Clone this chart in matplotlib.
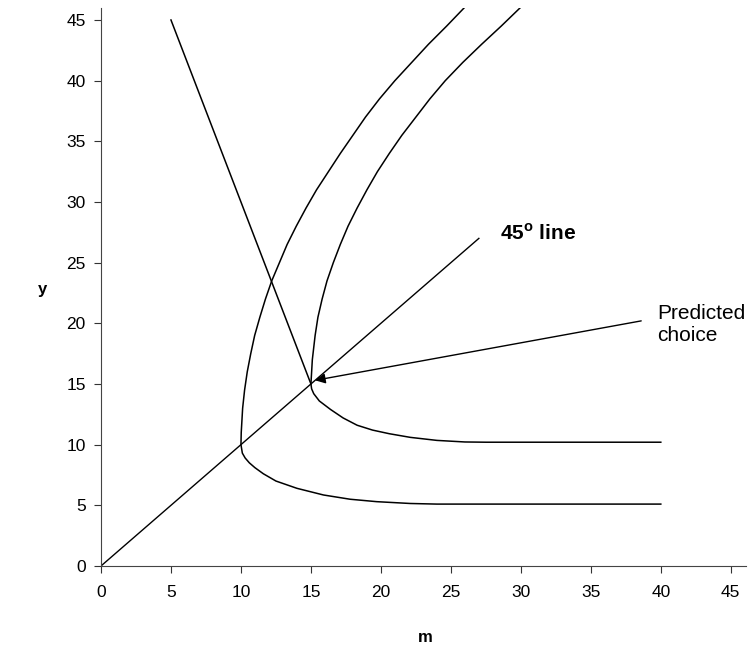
import matplotlib
matplotlib.use("Agg")
import matplotlib.pyplot as plt

plt.rcParams['font.family'] = ['Liberation Sans', 'DejaVu Sans']

# Indifference curve 1 (through 10,10)
c1_x = [26.0, 24.7, 23.4, 22.2, 21.0, 19.9, 18.9, 18.0, 17.1, 16.25, 15.4, 14.65, 13.95, 13.3, 12.75, 12.2, 11.75,
        11.35, 10.98, 10.7, 10.45, 10.26, 10.12, 10.02, 10.0,
        10.1, 10.3, 10.6, 11.0, 11.6, 12.5, 14.0, 15.9, 17.8, 19.7, 22.1, 24.0, 40.0]
c1_y = [46.06, 44.5, 43.0, 41.5, 40.0, 38.5, 37.0, 35.5, 34.0, 32.5, 31.0, 29.5, 28.0, 26.5, 25.0, 23.5, 22.0,
        20.5, 19.0, 17.5, 16.0, 14.5, 13.0, 11.0, 10.0,
        9.3, 8.9, 8.5, 8.1, 7.6, 7.0, 6.4, 5.85, 5.5, 5.3, 5.15, 5.1, 5.1]

# Indifference curve 2 (through 15,15)
c2_x = [30.0, 28.6, 27.2, 25.85, 24.6, 23.5, 22.5, 21.5, 20.6, 19.75, 19.0, 18.3, 17.65, 17.1, 16.6, 16.15, 15.8,
        15.5, 15.3, 15.1, 15.0,
        15.05, 15.2, 15.6, 16.4, 17.3, 18.3, 19.4, 20.6, 22.1, 24.0, 26.0, 27.5, 40.0]
c2_y = [46.06, 44.5, 43.0, 41.5, 40.0, 38.5, 37.0, 35.5, 34.0, 32.5, 31.0, 29.5, 28.0, 26.5, 25.0, 23.5, 22.0,
        20.5, 19.0, 17.0, 15.0,
        14.6, 14.2, 13.6, 12.9, 12.2, 11.6, 11.2, 10.9, 10.6, 10.35, 10.22, 10.2, 10.2]

# budget line and 45 degree line
budget_x = [5, 15]
budget_y = [45, 15]
diag_x = [0, 27]
diag_y = [0, 27]

ticks = [0, 5, 10, 15, 20, 25, 30, 35, 40, 45]

fig = plt.figure(figsize=(7.56, 6.54), dpi=100)
ax = fig.add_axes([0.1336, 0.1346, 0.8534, 0.8534])

ax.plot(c1_x, c1_y, color='black', lw=1.1)
ax.plot(c2_x, c2_y, color='black', lw=1.1)
ax.plot(budget_x, budget_y, color='black', lw=1.1)
ax.plot(diag_x, diag_y, color='black', lw=1.0)

ax.annotate('', xy=(15.3, 15.3), xytext=(38.6, 20.2),
            arrowprops=dict(arrowstyle='-|>', color='black', lw=1.0,
                            mutation_scale=15, shrinkA=0, shrinkB=0))

ax.text(28.5, 27.4, r'45$^{\mathregular{o}}$ line', fontsize=15, fontweight='bold', va='center', ha='left')
ax.text(39.75, 19.9, 'Predicted\nchoice', fontsize=15, va='center', ha='left', linespacing=1.15)

ax.set_xlim(0, 46.1)
ax.set_ylim(0, 46)
ax.set_xticks(ticks)
ax.set_yticks(ticks)
ax.tick_params(direction='out', length=5, width=0.8, labelsize=12.5, color='#333333')
ax.tick_params(axis='x', pad=9)
ax.tick_params(axis='y', pad=6)
for s in ['top', 'right']:
    ax.spines[s].set_visible(False)
for s in ['left', 'bottom']:
    ax.spines[s].set_color('#444444')
    ax.spines[s].set_linewidth(0.8)

fig.text(42 / 756, 1 - 290 / 654, 'y', fontsize=12, fontweight='bold', ha='center', va='center')
fig.text(425 / 756, 1 - 638 / 654, 'm', fontsize=12, fontweight='bold', ha='center', va='center')

fig.savefig('out.png', dpi=100)
